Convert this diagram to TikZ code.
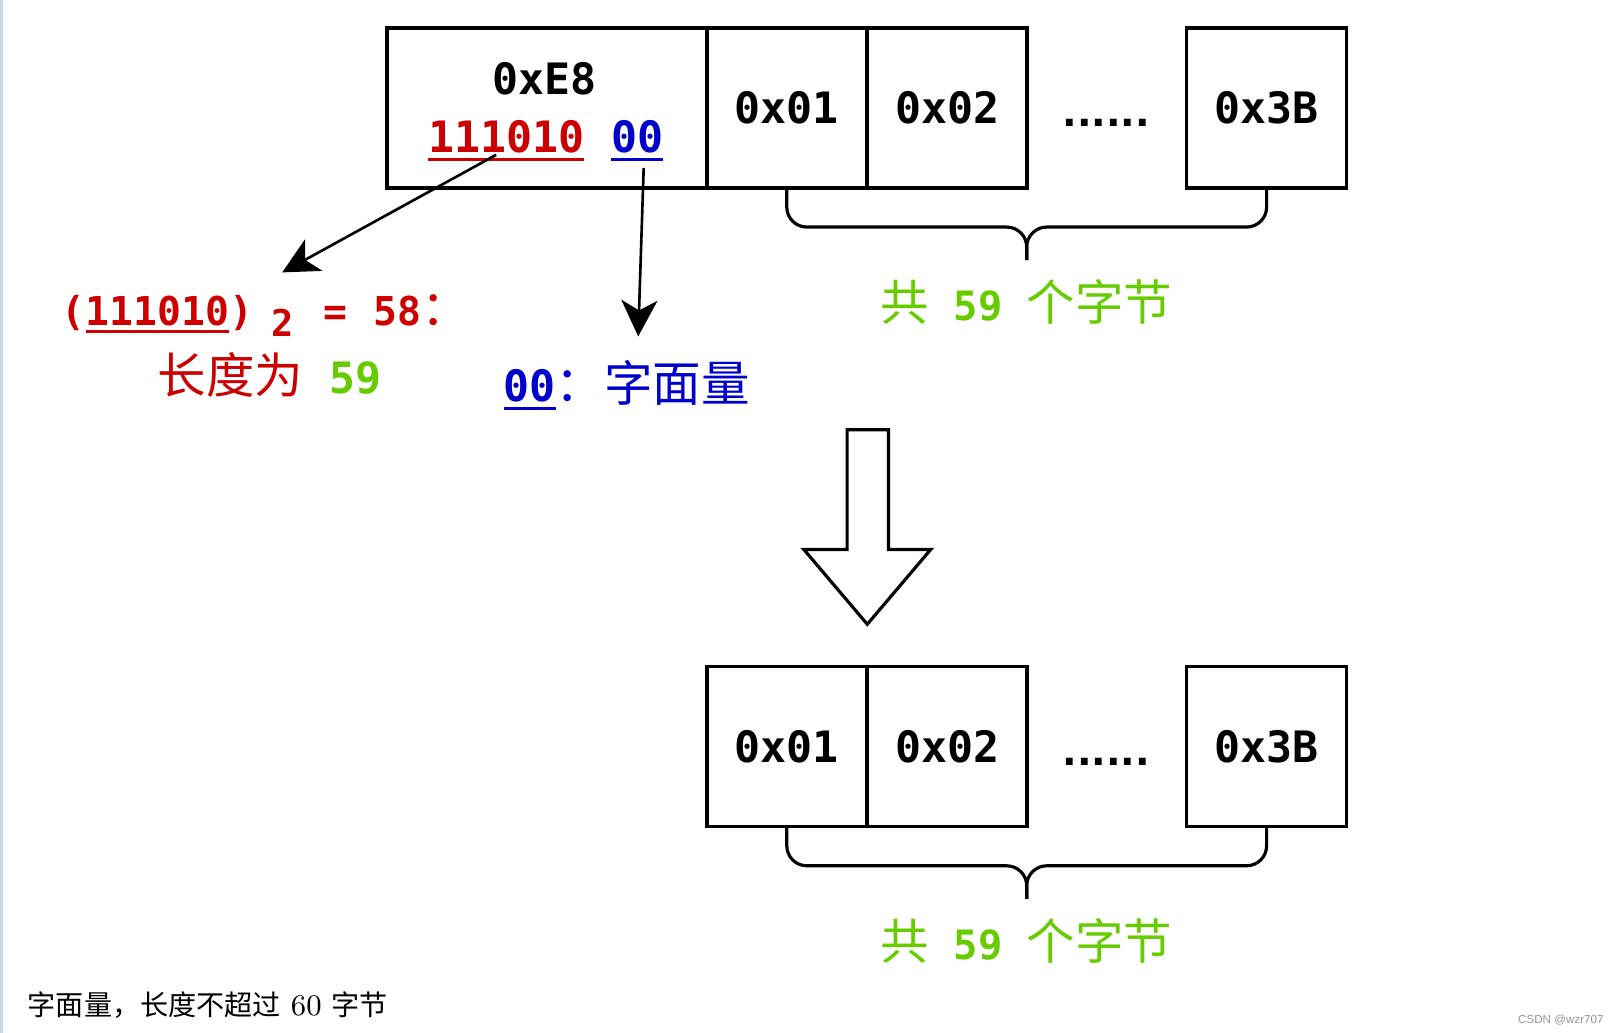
\documentclass[tikz,border=0pt]{standalone}
\usepackage{fontspec}
\usetikzlibrary{arrows.meta}

\newfontfamily\hexfont{DejaVu Sans Mono}
\newfontfamily\hanfont{Noto Sans CJK SC}
\newfontfamily\dotfont{DejaVu Sans}
\newfontfamily\wmfont{Liberation Sans}

\definecolor{bitred}{RGB}{204,0,0}
\definecolor{bitblue}{RGB}{0,0,204}
\definecolor{cntgreen}{RGB}{102,204,0}
\definecolor{edgegray}{RGB}{200,215,224}

\newcommand\bitline[1]{\setbox0\hbox{#1}\leavevmode\rlap{\copy0}\rule[-0.2em]{\wd0}{0.08em}}
\newcommand\han[1]{{\hanfont\mdseries\fontsize{13.8}{16}\selectfont #1}}

\begin{document}
\begin{tikzpicture}[
					x = 0.010318cm,
					y = -0.010318cm,
					every node/.style = {inner sep = 0, outer sep = 0},
					byte/.style = {draw, line width = 1.05pt, minimum width = 1.6cm, minimum height = 1.6cm,
						font = \hexfont\bfseries\fontsize{12.3}{14}\selectfont},
					hex/.style = {font = \hexfont\bfseries\fontsize{12.3}{14}\selectfont},
					small hex/.style = {font = \hexfont\bfseries\fontsize{11.5}{14}\selectfont},
					gap/.style = {font = \dotfont\bfseries\fontsize{10.9}{14}\selectfont, anchor = base},
					brace/.style = {line width = 0.9pt, rounded corners = 0.2cm},
					arr/.style = {line width = 0.75pt, -{Stealth[length = 0.36cm, width = 0.36cm, inset = 0.1cm]}}]

					\useasboundingbox (0,0) rectangle (1570,1001);
					\fill[edgegray] (0,0) rectangle (2.6,1001);

					% encoded
					\node[byte, minimum width = 3.2cm] (e8) at (530,104.5) {};
					\node[byte] (b1) at (762.5,104.5) {0x01};
					\node[byte] (b2) at (918,104.5) {0x02};
					\node[byte] (b3) at (1227.5,104.5) {0x3B};
					\node[gap] (bdots) at (1072,122.5) {......};

					\node[hex, anchor = base] (head) at (528,92) {0xE8};
					\node[hex, text = bitred, anchor = base] (hi) at (490.5,148) {\bitline{111010}};
					\node[hex, text = bitblue, anchor = base] (lo) at (617.5,148) {\bitline{00}};

					\draw[brace] (b1.south) |- ++(232.5,38) -- ++(0,32);
					\draw[brace] (b3.south) |- ++(-232.5,38) -- ++(0,32);
					\node[small hex, text = cntgreen, anchor = base] (bcnt) at (995,311) {\han{共} 59 \han{个字节}};

					\node[font = \hexfont\bfseries\fontsize{11.3}{13}\selectfont, text = bitred, anchor = base west] (lenbin) at (60,315)
						{(\bitline{111010})\hspace{0.45em}\raisebox{-0.3em}{\fontsize{10.5}{12}\selectfont 2}\hspace{0.75em}=\hspace{0.67em}58\han{：}};
					\node[hex, text = bitred, anchor = base west] (lenval) at (153,381) {\han{长度为} \textcolor{cntgreen}{59}};
					\node[hex, text = bitblue, anchor = base west] (litval) at (488,389) {\bitline{00}\han{：字面量}};

					\coordinate (hitip) at (273.5,264);
					\coordinate (lotip) at (618.5,326);
					\draw[arr] ([xshift = -0.1cm, yshift = 0.065cm]hi.south) -- (hitip);
					\draw[arr] ([xshift = 0.065cm, yshift = -0.065cm]lo.south) -- (lotip);

					% hollow arrow
					\draw[line width = 0.9pt] (821,416.5) -- (861,416.5) -- (861,532.5) -- (902,532.5)
						-- (840.5,605) -- (779,532.5) -- (821,532.5) -- cycle;

					% decoded
					\node[byte] (c1) at (762.5,723.5) {0x01};
					\node[byte] (c2) at (918,723.5) {0x02};
					\node[byte] (c3) at (1227.5,723.5) {0x3B};
					\node[gap] (cdots) at (1072,741.5) {......};

					\draw[brace] (c1.south) |- ++(232.5,38) -- ++(0,32);
					\draw[brace] (c3.south) |- ++(-232.5,38) -- ++(0,32);
					\node[small hex, text = cntgreen, anchor = base] (ccnt) at (995,930) {\han{共} 59 \han{个字节}};

					\node[font = \fontsize{8}{10}\selectfont, anchor = base west] (note) at (27,984)
						{{\hanfont 字面量，长度不超过} {\fontsize{8.5}{10}\selectfont 60} {\hanfont 字节}};
					\node[font = \wmfont\fontsize{3.3}{4}\selectfont, text = black!42, anchor = base east] (mark) at (1554,991.5) {CSDN @wzr707};

				\end{tikzpicture}
\end{document}
